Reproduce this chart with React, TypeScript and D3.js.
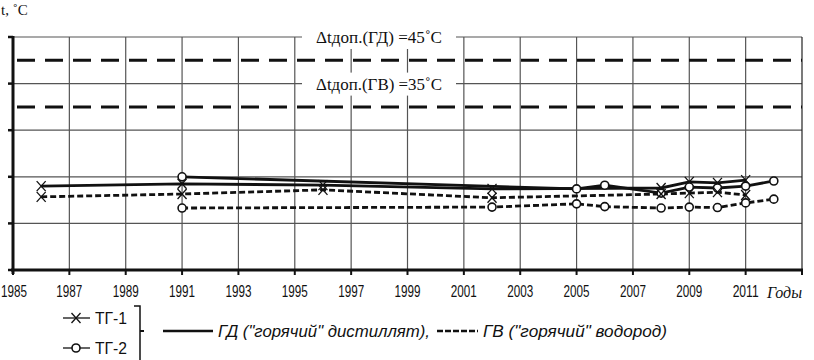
import * as d3 from "d3";

// years on the x axis (odd years carry labels)
const tickYears = [1985, 1987, 1989, 1991, 1993, 1995, 1997, 1999, 2001, 2003, 2005, 2007, 2009, 2011];
const gridValues = [10, 20, 30, 40, 50];

// ТГ-1, ГД ("горячий" дистиллят)
const tg1GdYears = [1986, 1991, 1996, 2002, 2008, 2009, 2010, 2011];
const tg1GdValues = [18.0, 18.5, 18.2, 17.4, 17.6, 18.9, 18.7, 19.3];
// ТГ-1, ГВ ("горячий" водород)
const tg1GvYears = [1986, 1991, 1996, 2002, 2008, 2009, 2010, 2011];
const tg1GvValues = [15.7, 16.3, 17.2, 15.5, 16.3, 16.5, 16.7, 16.1];
// ТГ-2, ГД
const tg2GdYears = [1991, 2005, 2006, 2008, 2009, 2010, 2011, 2012];
const tg2GdValues = [20.0, 17.4, 18.2, 16.5, 17.8, 17.6, 18.0, 19.1];
// ТГ-2, ГВ
const tg2GvYears = [1991, 2002, 2005, 2006, 2008, 2009, 2010, 2011, 2012];
const tg2GvValues = [13.3, 13.5, 14.2, 13.6, 13.3, 13.5, 13.4, 14.4, 15.2];

// permitted limits
const limitValues = [45, 35];
const limitLabels = ["Δtдоп.(ГД) =45˚C", "Δtдоп.(ГВ) =35˚C"];

const W = 814;
const H = 360;
const margin = { left: 13, right: 12, top: 37, bottom: 90 };

const x = d3.scaleLinear().domain([1985, 2013]).range([margin.left, W - margin.right]);
const y = d3.scaleLinear().domain([0, 50]).range([H - margin.bottom, margin.top]);

const series = [
  { years: tg1GdYears, values: tg1GdValues, dashed: false, marker: "x" },
  { years: tg2GdYears, values: tg2GdValues, dashed: false, marker: "o" },
  { years: tg1GvYears, values: tg1GvValues, dashed: true, marker: "x" },
  { years: tg2GvYears, values: tg2GvValues, dashed: true, marker: "o" },
];

const line = d3
  .line<[number, number]>()
  .x((d) => x(d[0]))
  .y((d) => y(d[1]));

const Marker = ({ cx, cy, kind }: { cx: number; cy: number; kind: string }) =>
  kind === "x" ? (
    <g stroke="#111" strokeWidth={1.3}>
      <line x1={cx - 4.5} y1={cy - 5} x2={cx + 4.5} y2={cy + 5} />
      <line x1={cx - 4.5} y1={cy + 5} x2={cx + 4.5} y2={cy - 5} />
    </g>
  ) : (
    <circle cx={cx} cy={cy} r={4} fill="#fff" stroke="#111" strokeWidth={1.6} />
  );

export default function App() {
  const x0 = x.range()[0];
  const x1 = x.range()[1];
  const yBottom = y(0);
  const yTop = y(50);
  const labelFont = "'Liberation Sans', Arial, sans-serif";
  const serif = "'Liberation Serif', 'Times New Roman', serif";

  return (
    <svg
      width={W}
      height={H}
      style={{ position: "absolute", left: 0, top: 0, background: "#fff" }}
    >
      {/* grid */}
      <g stroke="#555" strokeWidth={1.2}>
        {gridValues.map((v) => (
          <line key={v} x1={x0} x2={x1} y1={y(v)} y2={y(v)} />
        ))}
        {tickYears.slice(1).map((yr) => (
          <line key={yr} x1={x(yr)} x2={x(yr)} y1={yTop} y2={yBottom} />
        ))}
        <line x1={x1} x2={x1} y1={yTop} y2={yBottom} stroke="#222" />
      </g>

      {/* limit labels with white boxes */}
      {limitLabels.map((t, i) => (
        <g key={t}>
          <rect x={302} y={y(50 - i * 10) - 11} width={154} height={23} fill="#fff" />
          <text
            x={316}
            y={y(50 - i * 10) + 6}
            fontFamily={serif}
            fontSize={17}
            textLength={126}
            lengthAdjust="spacingAndGlyphs"
            fill="#111"
          >
            {t}
          </text>
        </g>
      ))}

      {/* limit lines */}
      {limitValues.map((v) => (
        <line
          key={v}
          x1={x0}
          x2={x1}
          y1={y(v)}
          y2={y(v)}
          stroke="#111"
          strokeWidth={3}
          strokeDasharray="18,10"
          strokeDashoffset={-4}
        />
      ))}

      {/* data lines */}
      {series.map((s, i) => (
        <path
          key={i}
          d={line(s.years.map((yr, j) => [yr, s.values[j]] as [number, number])) || ""}
          fill="none"
          stroke="#111"
          strokeWidth={2.8}
          strokeDasharray={s.dashed ? "6,3" : undefined}
        />
      ))}
      {series.map((s, i) => (
        <g key={"m" + i}>
          {s.years.map((yr, j) => (
            <Marker key={yr} cx={x(yr)} cy={y(s.values[j])} kind={s.marker} />
          ))}
        </g>
      ))}

      {/* axes */}
      <g stroke="#111">
        <line x1={x0} x2={x0} y1={yTop - 1} y2={yBottom + 4} strokeWidth={3} />
        <line x1={x0 - 2} x2={x1 + 1} y1={yBottom} y2={yBottom} strokeWidth={3} />
        {[0, ...gridValues].map((v) => (
          <line key={v} x1={x0 - 5} x2={x0} y1={y(v)} y2={y(v)} strokeWidth={2.5} />
        ))}
        {[...tickYears, 2013].map((yr) => (
          <line key={yr} x1={x(yr)} x2={x(yr)} y1={yBottom} y2={yBottom + 5} strokeWidth={2} />
        ))}
      </g>
      {tickYears.map((yr, i) => (
        <text
          key={yr}
          x={i === 0 ? 1 : x(yr)}
          y={yBottom + 27}
          textAnchor={i === 0 ? "start" : "middle"}
          fontFamily={labelFont}
          fontSize={17}
          textLength={26}
          lengthAdjust="spacingAndGlyphs"
          fill="#111"
        >
          {yr}
        </text>
      ))}
      <text x={767} y={yBottom + 28} fontFamily={serif} fontStyle="italic" fontSize={16} fill="#111">
        Годы
      </text>
      <text x={1} y={15} fontFamily={serif} fontSize={15} fill="#111">
        t, ˚C
      </text>

      {/* legend */}
      <g fontFamily={labelFont} fontSize={16} fill="#111">
        <line x1={63} x2={90} y1={318} y2={318} stroke="#111" strokeWidth={1.3} />
        <Marker cx={76} cy={318} kind="x" />
        <text x={95} y={324} textLength={32} lengthAdjust="spacingAndGlyphs">ТГ-1</text>
        <line x1={63} x2={90} y1={348} y2={348} stroke="#111" strokeWidth={1.3} />
        <Marker cx={76} cy={348} kind="o" />
        <text x={95} y={354} textLength={32} lengthAdjust="spacingAndGlyphs">ТГ-2</text>
        <path d="M134,306 H140 V360" fill="none" stroke="#111" strokeWidth={1.5} />
        <line x1={140} x2={144} y1={331} y2={331} stroke="#111" strokeWidth={2} />
        <line x1={163} x2={213} y1={331} y2={331} stroke="#111" strokeWidth={2.6} />
        <text x={218} y={337} fontStyle="italic" textLength={212} lengthAdjust="spacingAndGlyphs">
          ГД ("горячий" дистиллят),
        </text>
        <line x1={437} x2={478} y1={331} y2={331} stroke="#111" strokeWidth={2.6} strokeDasharray="6,2" />
        <text x={483} y={337} fontStyle="italic" textLength={184} lengthAdjust="spacingAndGlyphs">
          ГВ ("горячий" водород)
        </text>
      </g>
    </svg>
  );
}
